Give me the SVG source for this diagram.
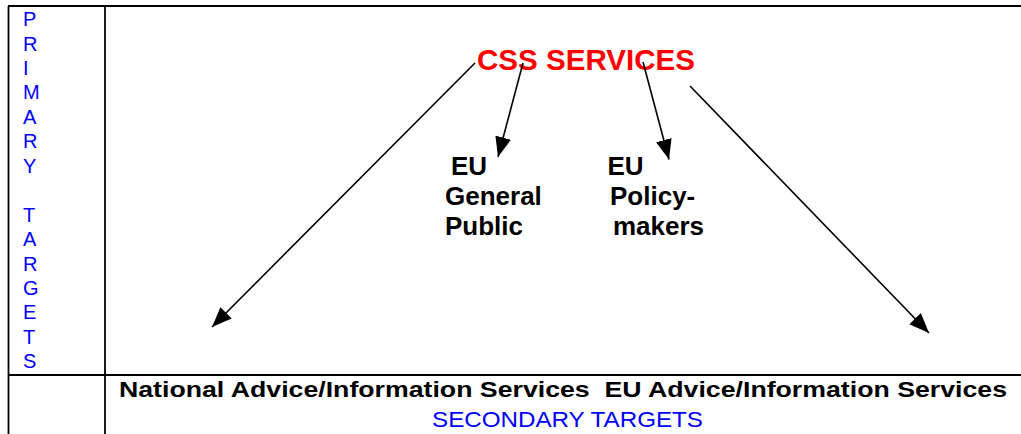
<svg xmlns="http://www.w3.org/2000/svg" width="1021" height="434" viewBox="0 0 1021 434">
<style>
.grid{stroke:#000;stroke-width:1.8;fill:none}
.conn{stroke:#000;stroke-width:1.6;fill:none}
.lbl{font-family:"Liberation Sans",Arial,sans-serif;font-weight:bold;font-size:26px;fill:#000}
.side{font-family:"Liberation Sans",Arial,sans-serif;font-size:20px;fill:#0000FF}
</style>
<defs>
<marker id="ah" markerUnits="userSpaceOnUse" markerWidth="22" markerHeight="18" refX="20" refY="8" orient="auto">
<path d="M0,0 L20,8 L0,16 z" fill="#000"/>
</marker>
</defs>
<rect width="1021" height="434" fill="#fff"/>
<g id="table">
<line class="grid" x1="8" y1="6" x2="1021" y2="6"/>
<line class="grid" x1="8.5" y1="6" x2="8.5" y2="434"/>
<line class="grid" x1="105" y1="6" x2="105" y2="434"/>
<line class="grid" x1="8" y1="375" x2="1021" y2="375"/>
</g>
<g id="primary-targets">
<text class="side" x="23" y="26">P</text>
<text class="side" x="23" y="50.5">R</text>
<text class="side" x="23" y="74.9">I</text>
<text class="side" x="23" y="99.4">M</text>
<text class="side" x="23" y="123.8">A</text>
<text class="side" x="23" y="148.3">R</text>
<text class="side" x="23" y="172.7">Y</text>
<text class="side" x="23" y="221.6">T</text>
<text class="side" x="23" y="246.1">A</text>
<text class="side" x="23" y="270.5">R</text>
<text class="side" x="23" y="295">G</text>
<text class="side" x="23" y="319.4">E</text>
<text class="side" x="23" y="343.9">T</text>
<text class="side" x="23" y="368.3">S</text>
</g>
<g id="css-services">
<text x="477" y="69.5" font-family="'Liberation Sans',Arial,sans-serif" font-weight="bold" font-size="29.5" fill="#FF0000" textLength="218" lengthAdjust="spacingAndGlyphs">CSS SERVICES</text>
</g>
<g id="eu-general-public">
<text class="lbl" x="451" y="175">EU</text>
<text class="lbl" x="445" y="205">General</text>
<text class="lbl" x="445" y="235">Public</text>
</g>
<g id="eu-policy-makers">
<text class="lbl" x="607.5" y="175">EU</text>
<text class="lbl" x="610" y="205">Policy-</text>
<text class="lbl" x="613" y="235">makers</text>
</g>
<g id="secondary-services">
<text x="119" y="397" font-family="'Liberation Sans',Arial,sans-serif" font-weight="bold" font-size="22" fill="#000" textLength="888" lengthAdjust="spacingAndGlyphs" xml:space="preserve">National Advice/Information Services  EU Advice/Information Services</text>
</g>
<g id="secondary-targets">
<text x="432" y="427" font-family="'Liberation Sans',Arial,sans-serif" font-size="22" fill="#0000FF" textLength="271" lengthAdjust="spacingAndGlyphs">SECONDARY TARGETS</text>
</g>
<g id="connectors">
<line class="conn" x1="475" y1="63" x2="212" y2="327" marker-end="url(#ah)"/>
<line class="conn" x1="523" y1="63" x2="498" y2="157" marker-end="url(#ah)"/>
<line class="conn" x1="643" y1="62" x2="669" y2="159.5" marker-end="url(#ah)"/>
<line class="conn" x1="690" y1="86" x2="929" y2="333" marker-end="url(#ah)"/>
</g>
</svg>
